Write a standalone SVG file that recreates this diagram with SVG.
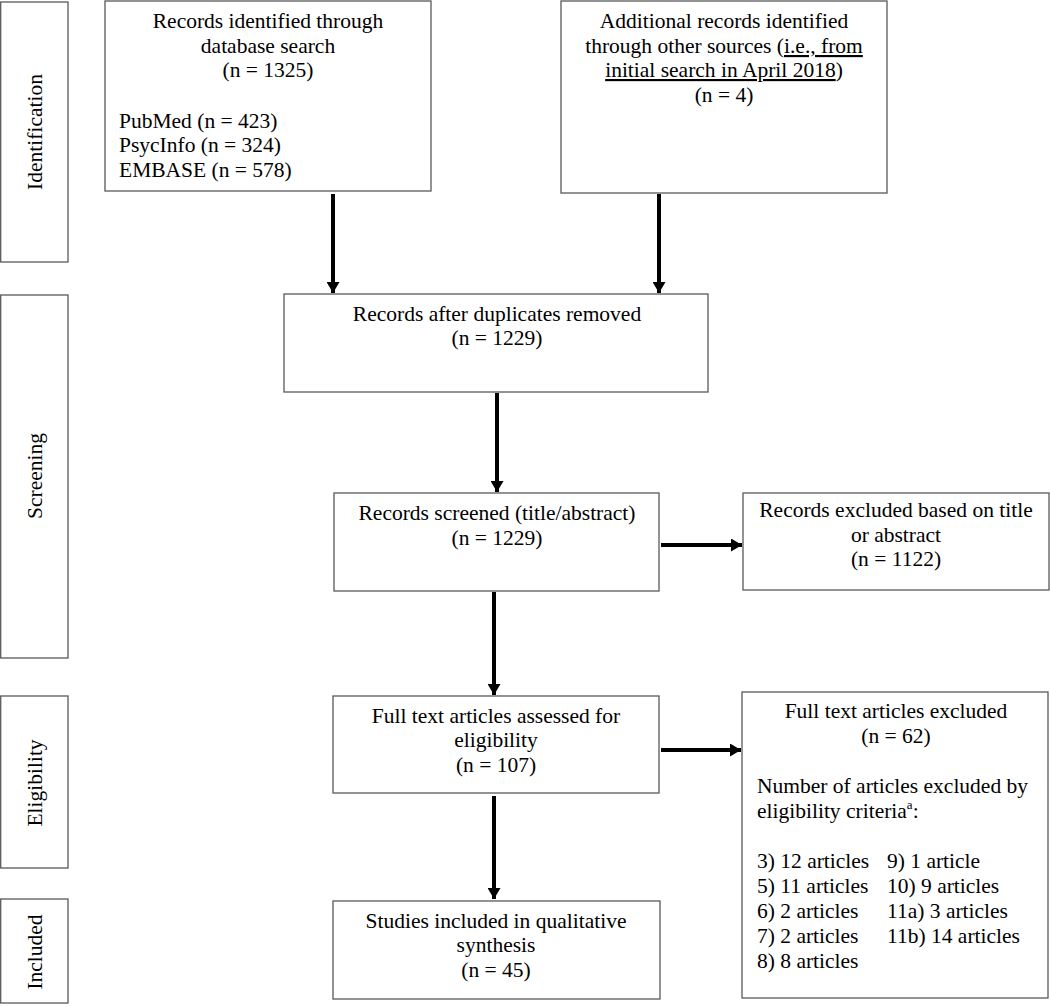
<svg xmlns="http://www.w3.org/2000/svg" width="1050" height="1007" viewBox="0 0 1050 1007">
<style>
  .box{fill:#ffffff;stroke:#595959;stroke-width:1.3}
  .t{font-family:"Liberation Serif","Times New Roman",serif;font-size:21.5px;fill:#000}
  .c{text-anchor:middle}
  .arrow{stroke:#000;stroke-width:4;fill:none;marker-end:url(#ah)}
  .u{text-decoration:underline}
</style>
<defs>
  <marker id="ah" markerUnits="userSpaceOnUse" markerWidth="12" markerHeight="13" refX="11" refY="6.5" orient="auto">
    <path d="M0,0 L11,6.5 L0,13 z" fill="#000"/>
  </marker>
</defs>
<rect width="1050" height="1007" fill="#ffffff"/>

<g id="stage-identification">
  <rect class="box" x="0.7" y="2" width="67.3" height="260"/>
  <text class="t c" transform="translate(42,132) rotate(-90)">Identification</text>
</g>
<g id="stage-screening">
  <rect class="box" x="0.7" y="295" width="67.3" height="363"/>
  <text class="t c" transform="translate(42,476) rotate(-90)">Screening</text>
</g>
<g id="stage-eligibility">
  <rect class="box" x="0.7" y="696" width="67.3" height="172"/>
  <text class="t c" transform="translate(42,783) rotate(-90)">Eligibility</text>
</g>
<g id="stage-included">
  <rect class="box" x="0.7" y="899" width="67.3" height="104"/>
  <text class="t c" transform="translate(42,952) rotate(-90)">Included</text>
</g>

<g id="node-database">
  <rect class="box" x="105" y="1" width="326" height="190"/>
  <text class="t c" x="268" y="28">Records identified through</text>
  <text class="t c" x="268" y="53">database search</text>
  <text class="t c" x="268" y="77">(n = 1325)</text>
  <text class="t" x="119" y="128">PubMed (n = 423)</text>
  <text class="t" x="119" y="152">PsycInfo (n = 324)</text>
  <text class="t" x="119" y="177">EMBASE (n = 578)</text>
</g>

<g id="node-other">
  <rect class="box" x="561" y="1" width="326" height="192"/>
  <text class="t c" x="724" y="28">Additional records identified</text>
  <text class="t c" x="724" y="53">through other sources (<tspan class="u">i.e., from</tspan></text>
  <text class="t c" x="724" y="77"><tspan class="u">initial search in April 2018</tspan>)</text>
  <text class="t c" x="724" y="102">(n = 4)</text>
</g>

<g id="node-duplicates">
  <rect class="box" x="284" y="294" width="424" height="98"/>
  <text class="t c" x="497" y="321">Records after duplicates removed</text>
  <text class="t c" x="497" y="345">(n = 1229)</text>
</g>

<g id="node-screened">
  <rect class="box" x="334" y="493" width="325" height="98"/>
  <text class="t c" x="497" y="520">Records screened (title/abstract)</text>
  <text class="t c" x="497" y="545">(n = 1229)</text>
</g>

<g id="node-excluded-title">
  <rect class="box" x="743" y="493" width="306" height="97"/>
  <text class="t c" x="896" y="517">Records excluded based on title</text>
  <text class="t c" x="896" y="542">or abstract</text>
  <text class="t c" x="896" y="566">(n = 1122)</text>
</g>

<g id="node-fulltext">
  <rect class="box" x="333" y="696" width="326" height="97"/>
  <text class="t c" x="496" y="723">Full text articles assessed for</text>
  <text class="t c" x="496" y="747">eligibility</text>
  <text class="t c" x="496" y="772">(n = 107)</text>
</g>

<g id="node-fulltext-excluded">
  <rect class="box" x="742" y="692" width="306" height="306"/>
  <text class="t c" x="896" y="718">Full text articles excluded</text>
  <text class="t c" x="896" y="743">(n = 62)</text>
  <text class="t" x="757" y="793">Number of articles excluded by</text>
  <text class="t" x="757" y="818">eligibility criteria<tspan font-size="13" dy="-9">a</tspan><tspan dy="9">:</tspan></text>
  <text class="t" x="757" y="868">3) 12 articles</text>
  <text class="t" x="757" y="893">5) 11 articles</text>
  <text class="t" x="757" y="918">6) 2 articles</text>
  <text class="t" x="757" y="943">7) 2 articles</text>
  <text class="t" x="757" y="968">8) 8 articles</text>
  <text class="t" x="887" y="868">9) 1 article</text>
  <text class="t" x="887" y="893">10) 9 articles</text>
  <text class="t" x="887" y="918">11a) 3 articles</text>
  <text class="t" x="887" y="943">11b) 14 articles</text>
</g>

<g id="node-included">
  <rect class="box" x="333" y="901" width="327" height="98"/>
  <text class="t c" x="496" y="928">Studies included in qualitative</text>
  <text class="t c" x="496" y="952">synthesis</text>
  <text class="t c" x="496" y="977">(n = 45)</text>
</g>

<g id="connectors">
  <line class="arrow" x1="333" y1="194" x2="333" y2="293"/>
  <line class="arrow" x1="659" y1="194" x2="659" y2="293"/>
  <line class="arrow" x1="497" y1="393" x2="497" y2="492"/>
  <line class="arrow" x1="494" y1="592" x2="494" y2="695"/>
  <line class="arrow" x1="661" y1="545" x2="742" y2="545"/>
  <line class="arrow" x1="661" y1="750" x2="741" y2="750"/>
  <line class="arrow" x1="494" y1="796" x2="494" y2="899"/>
</g>
</svg>
